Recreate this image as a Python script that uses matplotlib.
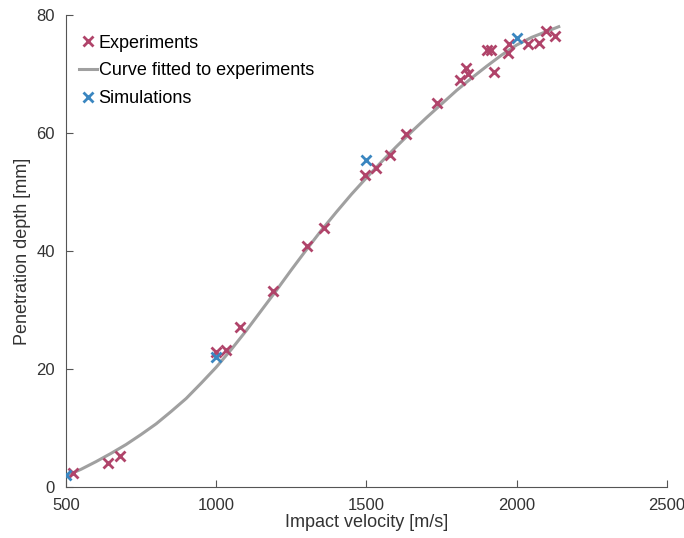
import matplotlib
matplotlib.use("Agg")
import matplotlib.pyplot as plt

plt.rcParams['font.family'] = ['Liberation Sans', 'DejaVu Sans']

# measured penetration depths
exp_velocity = [524, 639, 680, 999, 1031, 1079, 1190, 1302, 1358, 1495, 1532,
                1578, 1630, 1736, 1811, 1831, 1839, 1900, 1914, 1924, 1972,
                1974, 2037, 2073, 2097, 2127]
exp_depth = [2.4, 4.1, 5.3, 22.9, 23.2, 27.1, 33.2, 40.8, 43.9, 52.9, 54.1,
             56.3, 59.8, 65.0, 69.0, 71.0, 70.0, 74.1, 74.1, 70.4, 73.5,
             75.0, 75.1, 75.3, 77.3, 76.4]

# fitted curve, sampled every 50 m/s
fit_velocity = [500, 550, 600, 650, 700, 750, 800, 850, 900, 950, 1000,
                1050, 1100, 1150, 1200, 1250, 1300, 1350, 1400, 1450, 1500,
                1550, 1600, 1650, 1700, 1750, 1800, 1850, 1900, 1950, 2000,
                2050, 2100, 2140]
fit_depth = [1.9, 3.0, 4.3, 5.7, 7.2, 8.9, 10.7, 12.8, 15.0, 17.6, 20.3,
             23.3, 26.5, 29.9, 33.3, 36.8, 40.2, 43.5, 46.6, 49.6, 52.4,
             55.1, 57.7, 60.2, 62.6, 64.9, 67.2, 69.3, 71.3, 73.2, 74.9,
             76.2, 77.2, 78.0]

# simulation results
sim_velocity = [500, 1000, 1500, 2000]
sim_depth = [2.0, 22.0, 55.4, 76.1]

red = '#B0446A'
blue = '#3A86C0'
grey = '#A0A0A0'

fig = plt.figure(figsize=(6.84, 5.38), dpi=100)
ax = fig.add_axes([0.0965, 0.0948, 0.8785, 0.8775])

ax.plot(exp_velocity, exp_depth, 'x', color=red, markersize=7, mew=2.0,
        label='Experiments', zorder=3)
ax.plot(fit_velocity, fit_depth, '-', color=grey, lw=2.2,
        label='Curve fitted to experiments', zorder=2)
ax.plot(sim_velocity, sim_depth, 'x', color=blue, markersize=7, mew=2.0,
        label='Simulations', zorder=4)

ax.set_xlim(500, 2500)
ax.set_ylim(0, 80)
ax.set_xticks([500, 1000, 1500, 2000, 2500])
ax.set_yticks([0, 20, 40, 60, 80])

for side in ['top', 'right']:
    ax.spines[side].set_visible(False)
for side in ['left', 'bottom']:
    ax.spines[side].set_color('#555555')
    ax.spines[side].set_linewidth(0.8)
ax.tick_params(direction='in', length=5, width=0.8, color='#555555',
               labelsize=12, labelcolor='#333333', pad=8)

ax.set_xlabel('Impact velocity [m/s]', fontsize=13, color='#333333', labelpad=1)
ax.set_ylabel('Penetration depth [mm]', fontsize=13, color='#333333', labelpad=4)

leg = ax.legend(loc='upper left', frameon=False, fontsize=13,
                handlelength=1.0, handletextpad=0.1, labelspacing=0.6,
                borderaxespad=0.3, bbox_to_anchor=(0.0, 0.985))

fig.savefig('out.png', dpi=100)
